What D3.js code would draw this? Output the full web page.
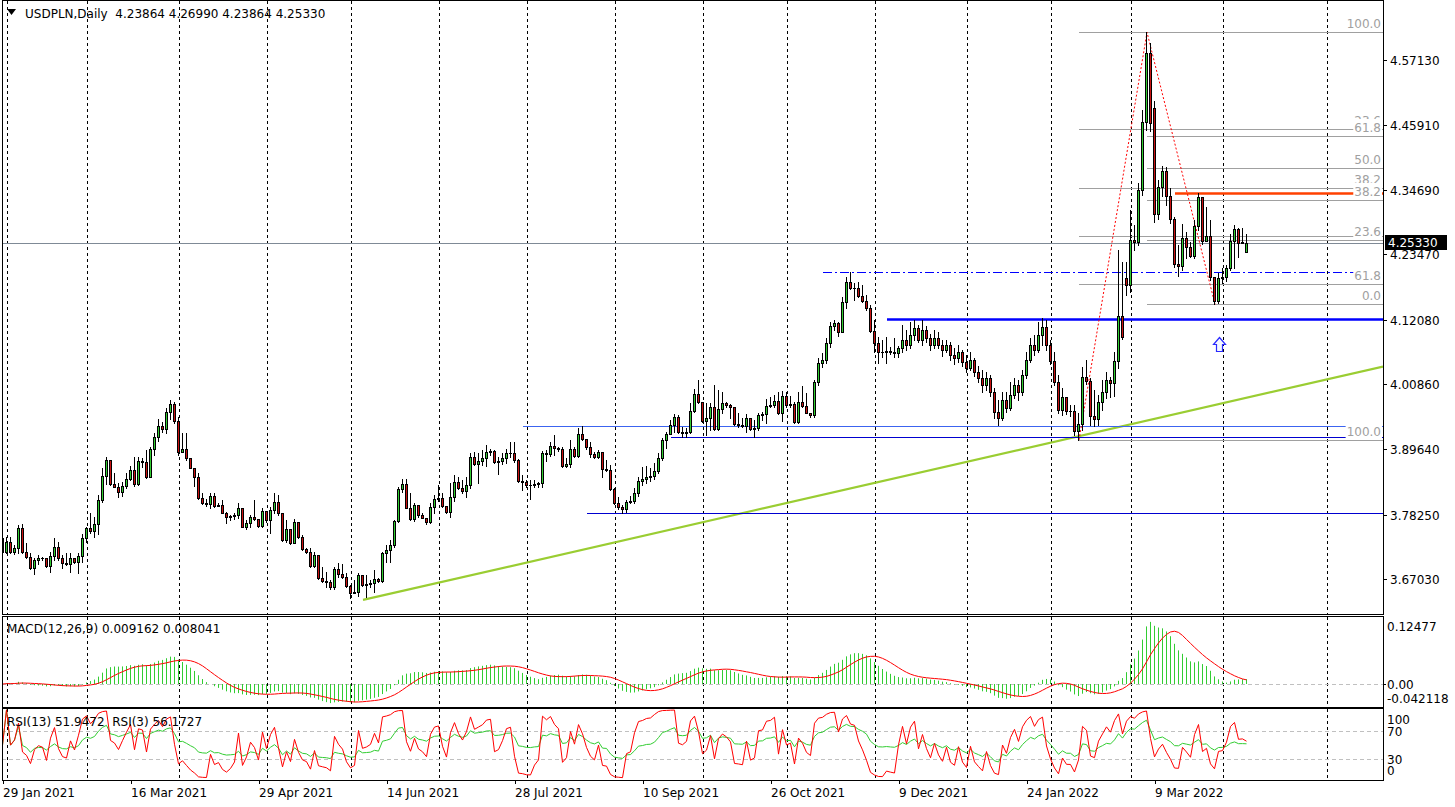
<!DOCTYPE html>
<html><head><meta charset="utf-8">
<script src="https://cdn.jsdelivr.net/npm/d3@7"></script>
<style>
body{margin:0;background:#fff;}
svg{display:block;}
text{font-family:"DejaVu Sans",sans-serif;font-size:12px;white-space:pre;}
</style></head>
<body><svg id="c" width="1455" height="807"></svg>
<script>
// ---------- DATA ----------
const open=[3.7414,3.7183,3.7356,3.7183,3.7241,3.7588,3.7171,3.7096,3.6893,3.7038,3.7079,3.7067,3.6940,3.7107,3.7258,3.7079,3.6980,3.6963,3.7067,3.7009,
3.7107,3.7414,3.7588,3.7542,3.7657,3.8080,3.8496,3.8774,3.8357,3.8311,3.8213,3.8323,3.8444,3.8601,3.8352,3.8757,3.8745,3.8473,3.8965,3.9168,
3.9364,3.9307,3.9607,3.9741,3.9451,3.8919,3.8959,3.8815,3.8641,3.8485,3.8109,3.8033,3.8010,3.8149,3.7976,3.7987,3.7860,3.7790,3.7802,3.7819,
3.7947,3.7617,3.7675,3.7790,3.7750,3.7634,3.7889,3.7732,3.7906,3.8039,3.7848,3.7385,3.7576,3.7327,3.7692,3.7432,3.7229,3.7183,3.6940,3.7125,
3.6720,3.6679,3.6650,3.6564,3.6876,3.6795,3.6749,3.6593,3.6471,3.6482,3.6778,3.6604,3.6616,3.6633,3.6708,3.6668,3.7154,3.7212,3.7298,3.7715,
3.8271,3.8352,3.7947,3.7750,3.7993,3.7819,3.7773,3.7703,3.7952,3.8097,3.8120,3.7981,3.7866,3.8126,3.8387,3.8294,3.8242,3.8340,3.8820,3.8705,
3.8757,3.8803,3.8907,3.8925,3.8745,3.8757,3.8803,3.8890,3.8902,3.8774,3.8415,3.8387,3.8340,3.8334,3.8358,3.8369,3.8902,3.8878,3.9017,3.8977,
3.8959,3.8670,3.8699,3.8959,3.8849,3.9226,3.9139,3.8994,3.8873,3.8820,3.8919,3.8618,3.8601,3.8265,3.8022,3.7964,3.7918,3.8051,3.8062,3.8207,
3.8410,3.8438,3.8485,3.8496,3.8583,3.8803,3.9122,3.9220,3.9382,3.9527,3.9254,3.9237,3.9266,3.9631,3.9914,3.9775,3.9457,3.9498,3.9689,3.9312,
3.9654,3.9758,3.9729,3.9689,3.9393,3.9382,3.9370,3.9498,3.9312,3.9324,3.9556,3.9567,3.9712,3.9729,3.9798,3.9584,3.9885,3.9729,3.9747,3.9440,
3.9775,3.9712,3.9596,3.9556,4.0123,4.0452,4.0510,4.0800,4.1101,4.1158,4.1002,4.1511,4.1859,4.1766,4.1755,4.1627,4.1540,4.1407,4.1020,4.0811,
4.0655,4.0643,4.0667,4.0643,4.0626,4.0713,4.0858,4.0771,4.0944,4.1066,4.0858,4.1031,4.0892,4.0771,4.0892,4.0771,4.0684,4.0771,4.0597,4.0545,
4.0649,4.0476,4.0372,4.0510,4.0302,4.0198,4.0076,4.0198,3.9955,3.9608,3.9504,3.9816,3.9677,3.9903,4.0076,3.9955,4.0250,4.0510,4.0771,4.0684,
4.0944,4.1088,4.0771,4.0493,4.0134,3.9642,3.9873,3.9630,3.9625,3.9283,3.9399,4.0215,4.0151,3.9538,3.9481,3.9781,3.9955,4.0163,4.0111,4.0493,
4.1274,4.1934,4.1812,4.2594,4.2559,4.3462,4.4637,4.5835,4.4880,4.3040,4.3519,4.3791,4.3363,4.2953,4.2172,4.2142,4.2623,4.2477,4.2321,4.2837,
4.3335,4.2576,4.2663,4.1956,4.1540,4.1929,4.1946,4.2102,4.2576,4.2779,4.2547,4.23864];
const high=[3.7559,3.7443,3.7443,3.7298,3.7646,3.7663,3.7327,3.7154,3.7067,3.7125,3.7096,3.7038,3.7183,3.7414,3.7356,3.7125,3.7154,3.7154,3.7038,3.7154,
3.7489,3.7617,3.7848,3.7790,3.8166,3.8629,3.8832,3.8757,3.8554,3.8369,3.8398,3.8543,3.8670,3.8832,3.8832,3.8803,3.8948,3.9006,3.9237,3.9480,
3.9440,3.9671,3.9816,3.9787,3.9526,3.9237,3.9237,3.8803,3.8612,3.8543,3.8195,3.8091,3.8195,3.8195,3.8022,3.8080,3.7877,3.7819,3.7848,3.8022,
3.7935,3.7732,3.7819,3.8080,3.7732,3.7935,3.7848,3.7964,3.8207,3.8166,3.7860,3.7732,3.7559,3.7744,3.7628,3.7472,3.7241,3.7241,3.7183,3.7107,
3.6922,3.6836,3.6691,3.6922,3.6980,3.6969,3.6818,3.6604,3.6691,3.6818,3.6720,3.6778,3.6691,3.6864,3.6720,3.7183,3.7298,3.7385,3.7732,3.8300,
3.8438,3.8438,3.8195,3.8022,3.7877,3.7860,3.7761,3.8022,3.8166,3.8340,3.8195,3.7976,3.8369,3.8514,3.8485,3.8427,3.8485,3.8890,3.8919,3.8890,
3.8948,3.9035,3.8959,3.8948,3.8832,3.8890,3.8959,3.9081,3.9081,3.8786,3.8514,3.8427,3.8427,3.8427,3.8398,3.8936,3.8948,3.9093,3.9208,3.9006,
3.9006,3.8803,3.9122,3.9006,3.9324,3.9364,3.9093,3.9093,3.8919,3.8948,3.8890,3.8774,3.8687,3.8282,3.8138,3.7993,3.8080,3.8149,3.8282,3.8485,
3.8658,3.8670,3.8630,3.8716,3.8890,3.9151,3.9266,3.9469,3.9573,3.9556,3.9353,3.9324,3.9758,4.0001,4.0163,3.9700,3.9758,3.9758,4.0076,3.9989,
3.9960,3.9787,3.9747,3.9700,3.9584,3.9498,3.9573,3.9457,3.9469,3.9596,3.9613,3.9827,3.9874,3.9903,3.9960,3.9978,3.9960,3.9885,3.9787,3.9960,
4.0059,3.9932,3.9596,4.0163,4.0539,4.0626,4.0886,4.1176,4.1205,4.1176,4.1610,4.1957,4.2032,4.1841,4.1870,4.1812,4.1639,4.1465,4.1205,4.0915,
4.0858,4.0915,4.0742,4.0886,4.0753,4.1118,4.1031,4.1170,4.1205,4.1118,4.1205,4.1101,4.0962,4.1031,4.0996,4.0858,4.0858,4.0823,4.0719,4.0771,
4.0684,4.0597,4.0649,4.0545,4.0406,4.0337,4.0302,4.0250,4.0024,3.9816,3.9955,3.9955,4.0129,4.0198,4.0163,4.0337,4.0649,4.0892,4.0944,4.1170,
4.1240,4.1205,4.0858,4.0649,4.0250,4.0024,3.9851,3.9729,3.9729,3.9590,4.0389,4.0510,4.0198,3.9990,3.9903,4.0163,4.0302,4.0215,4.0649,4.2420,
4.2217,4.2207,4.3114,4.2854,4.3583,4.4850,4.6199,4.6019,4.5007,4.3635,4.3878,4.3866,4.3496,4.3000,4.2507,4.2871,4.2727,4.2564,4.2941,4.3404,
4.3345,4.3172,4.2941,4.1956,4.2016,4.2102,4.2160,4.2698,4.2854,4.2797,4.2797,4.26990];
const low=[3.7154,3.7165,3.7154,3.7142,3.7165,3.7154,3.7067,3.6876,3.6795,3.6969,3.7038,3.6911,3.6836,3.7038,3.7038,3.6893,3.6951,3.6836,3.6980,3.6807,
3.7009,3.7356,3.7513,3.7443,3.7489,3.8051,3.8357,3.8340,3.8300,3.8126,3.8149,3.8282,3.8427,3.8329,3.8340,3.8647,3.8456,3.8485,3.8861,3.9104,
3.9266,3.9237,3.9480,3.9422,3.8861,3.8936,3.8774,3.8629,3.8323,3.8091,3.8010,3.7976,3.7935,3.7952,3.7976,3.7848,3.7675,3.7732,3.7744,3.7761,
3.7605,3.7570,3.7617,3.7732,3.7617,3.7617,3.7703,3.7513,3.7848,3.7819,3.7374,3.7356,3.7316,3.7356,3.7414,3.7212,3.7165,3.6922,3.6922,3.6702,
3.6662,3.6575,3.6529,3.6529,3.6749,3.6720,3.6575,3.6373,3.6459,3.6413,3.6587,3.6402,3.6575,3.6488,3.6650,3.6662,3.6997,3.7009,3.7258,3.7703,
3.8224,3.7935,3.7732,3.7721,3.7790,3.7761,3.7663,3.7675,3.7848,3.8068,3.7964,3.7848,3.7790,3.8068,3.8265,3.8207,3.8126,3.8282,3.8687,3.8369,
3.8687,3.8670,3.8861,3.8728,3.8531,3.8705,3.8716,3.8832,3.8745,3.8398,3.8253,3.8311,3.8091,3.8300,3.8300,3.8300,3.8763,3.8844,3.8861,3.8931,
3.8658,3.8647,3.8658,3.8832,3.8832,3.9122,3.8959,3.8820,3.8803,3.8803,3.8485,3.8589,3.8253,3.8011,3.7918,3.7848,3.7877,3.8022,3.8022,3.8149,
3.8340,3.8369,3.8415,3.8438,3.8554,3.8774,3.8977,3.9220,3.9266,3.9237,3.9168,3.9180,3.9237,3.9613,3.9758,3.9440,3.9208,3.9295,3.9295,3.9295,
3.9584,3.9689,3.9498,3.9376,3.9353,3.9353,3.9266,3.9295,3.9180,3.9295,3.9469,3.9411,3.9689,3.9689,3.9573,3.9457,3.9700,3.9700,3.9422,3.9411,
3.9700,3.9584,3.9527,3.9515,4.0076,4.0395,4.0452,4.0742,4.1031,4.0927,4.1020,4.1407,4.1737,4.1552,4.1598,4.1523,4.1378,4.1002,4.0655,4.0452,
4.0557,4.0464,4.0614,4.0568,4.0557,4.0649,4.0684,4.0719,4.0858,4.0823,4.0771,4.0823,4.0684,4.0719,4.0719,4.0580,4.0649,4.0510,4.0441,4.0476,
4.0406,4.0302,4.0337,4.0233,4.0129,3.9955,3.9990,3.9885,3.9504,3.9382,3.9469,3.9608,3.9642,3.9851,3.9816,3.9903,4.0198,4.0476,4.0597,4.0649,
4.0771,4.0684,4.0441,4.0076,3.9590,3.9556,3.9573,3.9538,3.9208,3.9122,3.9295,4.0094,3.9382,3.9365,3.9382,3.9642,3.9851,3.9868,3.9885,4.0372,
4.0875,4.1639,4.1691,4.2420,4.2507,4.3375,4.4503,4.4486,4.2911,4.2958,4.3357,4.3201,4.2894,4.2130,4.1969,4.2073,4.2286,4.2304,4.2281,4.2767,
4.2519,4.2651,4.1899,4.1477,4.1495,4.1842,4.1882,4.2073,4.2102,4.2304,4.2536,4.23864];
const close=[3.7183,3.7356,3.7183,3.7241,3.7588,3.7171,3.7096,3.6893,3.7038,3.7079,3.7067,3.6940,3.7107,3.7258,3.7079,3.6980,3.6963,3.7067,3.7009,3.7107,
3.7414,3.7588,3.7542,3.7657,3.8080,3.8496,3.8774,3.8357,3.8311,3.8213,3.8323,3.8444,3.8601,3.8352,3.8757,3.8745,3.8473,3.8965,3.9168,3.9364,
3.9307,3.9607,3.9741,3.9451,3.8919,3.8959,3.8815,3.8641,3.8485,3.8109,3.8033,3.8010,3.8149,3.7976,3.7987,3.7860,3.7790,3.7802,3.7819,3.7947,
3.7617,3.7675,3.7790,3.7750,3.7634,3.7889,3.7732,3.7906,3.8039,3.7848,3.7385,3.7576,3.7327,3.7692,3.7432,3.7229,3.7183,3.6940,3.7125,3.6720,
3.6679,3.6650,3.6564,3.6876,3.6795,3.6749,3.6593,3.6471,3.6482,3.6778,3.6604,3.6616,3.6633,3.6708,3.6668,3.7154,3.7212,3.7298,3.7715,3.8271,
3.8352,3.7947,3.7750,3.7993,3.7819,3.7773,3.7703,3.7952,3.8097,3.8120,3.7981,3.7866,3.8126,3.8387,3.8294,3.8242,3.8340,3.8820,3.8705,3.8757,
3.8803,3.8907,3.8925,3.8745,3.8757,3.8803,3.8890,3.8902,3.8774,3.8415,3.8387,3.8340,3.8334,3.8358,3.8369,3.8902,3.8878,3.9017,3.8977,3.8959,
3.8670,3.8699,3.8959,3.8849,3.9226,3.9139,3.8994,3.8873,3.8820,3.8919,3.8618,3.8601,3.8265,3.8022,3.7964,3.7918,3.8051,3.8062,3.8207,3.8410,
3.8438,3.8485,3.8496,3.8583,3.8803,3.9122,3.9220,3.9382,3.9527,3.9254,3.9237,3.9266,3.9631,3.9914,3.9775,3.9457,3.9498,3.9689,3.9312,3.9654,
3.9758,3.9729,3.9689,3.9393,3.9382,3.9370,3.9498,3.9312,3.9324,3.9556,3.9567,3.9712,3.9729,3.9798,3.9584,3.9885,3.9729,3.9747,3.9440,3.9775,
3.9712,3.9596,3.9556,4.0123,4.0452,4.0510,4.0800,4.1101,4.1158,4.1002,4.1511,4.1859,4.1766,4.1755,4.1627,4.1540,4.1407,4.1020,4.0811,4.0655,
4.0643,4.0667,4.0643,4.0626,4.0713,4.0858,4.0771,4.0944,4.1066,4.0858,4.1031,4.0892,4.0771,4.0892,4.0771,4.0684,4.0771,4.0597,4.0545,4.0649,
4.0476,4.0372,4.0510,4.0302,4.0198,4.0076,4.0198,3.9955,3.9608,3.9504,3.9816,3.9677,3.9903,4.0076,3.9955,4.0250,4.0510,4.0771,4.0684,4.0944,
4.1088,4.0771,4.0493,4.0134,3.9642,3.9873,3.9630,3.9625,3.9283,3.9399,4.0215,4.0151,3.9538,3.9481,3.9781,3.9955,4.0163,4.0111,4.0493,4.1274,
4.0910,4.1812,4.2594,4.2559,4.3462,4.4637,4.5835,4.4630,4.3040,4.3519,4.3791,4.3363,4.2953,4.2172,4.2142,4.2623,4.2477,4.2321,4.2837,4.3335,
4.2576,4.2663,4.1956,4.1540,4.1929,4.1946,4.2102,4.2576,4.2779,4.2547,4.2554,4.25330];

const priceTicks=[4.5713,4.4591,4.3469,4.2347,4.1208,4.0086,3.8964,3.7825,3.6703];
const dateTickBars=[0,32,64,96,128,160,192,224,256,288];
const dateLabels=["29 Jan 2021","16 Mar 2021","29 Apr 2021","14 Jun 2021","28 Jul 2021","10 Sep 2021","26 Oct 2021","9 Dec 2021","24 Jan 2022","9 Mar 2022"];
const monthGridBars=[1,21,44,66,87,109,131,153,175,196,218,241,262,282,305,331];
const macdTickValues=[0.12477,0,-0.042118];
const macdTickLabels=["0.12477","0.00","-0.042118"];
const rsiTickValues=[100,70,30,0];
const rsiLevels=[70,30];
const lastPrice=4.25330;
// horizontal line objects: price, first bar, colour, width, dash
const hLinePrices=[4.3414,4.2032,4.1218,3.9365,3.9168,3.7849];
const hLineFromBar=[293,205,221,130,167,146];
const hLineColors=["#ff4000","#0000ff","#0000ff","#3c64f0","#0000d0","#0000d0"];
const hLineWidths=[2.5,1,2.5,1,1,1];
const hLineDash=[null,"9,3,2,3",null,null,null,null];
const trendBars=[90,269], trendPrices=[3.6344,3.9188];
const zigzagBars=[269,286,303];
const fibLevels=[0,23.6,38.2,50,61.8,100];
const fibA={bar:269,p0:4.6199,p100:3.9122};
const fibB={bar:286,p0:4.1477,p100:4.6199};
const arrowBar=304, arrowPrice=4.0910;

// ---------- SCALES ----------
const svg=d3.select("#c");
const X0=2,X1=1383;
const PM=[1,614],PD=[617,707],PR=[709,780];
const x=d3.scaleLinear().domain([0,345]).range([3,3+4*345]);
const y=d3.scaleLinear().domain([3.6100,4.6743]).range([614,1]);
const yM=d3.scaleLinear().domain([-0.042118,0.12477]).range([706.5,617.5]);
const yR=d3.scaleLinear().domain([0,100]).range([780.5,709.8]);
const GREEN="#32cd32",RED="#c81212";

svg.append("rect").attr("width",1455).attr("height",807).attr("fill","#fff");
const defs=svg.append("defs");
function clip(id,p){defs.append("clipPath").attr("id",id).append("rect").attr("x",X0).attr("y",p[0]).attr("width",X1-X0).attr("height",p[1]-p[0]);}
clip("cm",PM);clip("cd",PD);clip("cr",PR);
const gM=svg.append("g").attr("clip-path","url(#cm)");
const gD=svg.append("g").attr("clip-path","url(#cd)");
const gR=svg.append("g").attr("clip-path","url(#cr)");

// grid
[[gM,PM],[gD,PD],[gR,PR]].forEach(([g,p])=>{
  g.selectAll("line.grid").data(monthGridBars).join("line").attr("class","grid")
   .attr("x1",d=>Math.round(x(d))+0.5).attr("x2",d=>Math.round(x(d))+0.5)
   .attr("y1",p[0]).attr("y2",p[1]).attr("stroke","#000").attr("stroke-dasharray","3,3");
});

// trendline (ray to the right edge)
const tSlope=(trendPrices[1]-trendPrices[0])/(trendBars[1]-trendBars[0]);
const tEnd=x.invert(X1);
gM.append("line").attr("x1",x(trendBars[0])).attr("y1",y(trendPrices[0]))
  .attr("x2",X1).attr("y2",y(trendPrices[0]+tSlope*(tEnd-trendBars[0])))
  .attr("stroke","#9acd32").attr("stroke-width",2.2);

// horizontal lines
hLinePrices.forEach((p,i)=>{
  const yy=Math.round(y(p))+0.5;
  gM.append("line").attr("x1",x(hLineFromBar[i])).attr("x2",X1).attr("y1",yy).attr("y2",yy)
    .attr("stroke",hLineColors[i]).attr("stroke-width",hLineWidths[i])
    .attr("stroke-dasharray",hLineDash[i]);
});
// bid line
gM.append("line").attr("x1",X0).attr("x2",X1).attr("y1",Math.round(y(lastPrice))+0.5).attr("y2",Math.round(y(lastPrice))+0.5)
  .attr("stroke","#7f8a96");

// fibonacci
function fib(f){
  const g=gM.append("g");
  fibLevels.forEach(L=>{
    const p=f.p0+(f.p100-f.p0)*L/100;
    const yy=Math.round(y(p))+0.5;
    g.append("line").attr("x1",x(f.bar)).attr("x2",X1).attr("y1",yy).attr("y2",yy).attr("stroke","#a0a0a0");
  });
  fibLevels.forEach(L=>{
    const p=f.p0+(f.p100-f.p0)*L/100;
    const yy=Math.round(y(p));
    const bg=g.append("rect").attr("fill","#fff");
    const t=g.append("text").attr("x",1381).attr("y",yy-4).attr("text-anchor","end").attr("fill","#a0a0a0").text(L.toFixed(1));
    const w=t.node().getComputedTextLength();
    bg.attr("x",1381-w-1).attr("y",yy-17).attr("width",w+2).attr("height",15);
  });
}
fib(fibA);fib(fibB);

// zigzag
gM.append("path").attr("d",d3.line()([[x(zigzagBars[0]),y(low[zigzagBars[0]])],[x(zigzagBars[1]),y(high[zigzagBars[1]])],[x(zigzagBars[2]),y(low[zigzagBars[2]])]]))
  .attr("fill","none").attr("stroke","#ff0000").attr("stroke-dasharray","2,2");

// candles
const cg=gM.append("g");
close.forEach((c,i)=>{
  const o=open[i];
  const cx=Math.round(x(i))-1;
  cg.append("line").attr("x1",cx+0.5).attr("x2",cx+0.5).attr("y1",Math.round(y(high[i]))).attr("y2",Math.round(y(low[i]))+1)
    .attr("stroke","#000");
  const yt=Math.round(y(Math.max(o,c))), yb=Math.round(y(Math.min(o,c)));
  if(yb-yt<1){
    cg.append("line").attr("x1",cx-1).attr("x2",cx+2).attr("y1",yt+0.5).attr("y2",yt+0.5).attr("stroke","#000");
  }else{
    cg.append("rect").attr("x",cx-0.5).attr("y",yt+0.5).attr("width",2).attr("height",yb-yt)
      .attr("fill",c>=o?GREEN:RED).attr("stroke","#000");
  }
});

// arrow
const ax=Math.round(x(arrowBar))+0.5, ay=Math.round(y(arrowPrice))+0.5;
gM.append("path").attr("d",`M${ax-6},${ay+7}L${ax},${ay}L${ax+6},${ay+7}L${ax+3},${ay+7}L${ax+3},${ay+14}L${ax-3},${ay+14}L${ax-3},${ay+7}Z`)
  .attr("fill","#f4f8ff").attr("stroke","#2a2aff").attr("stroke-width",1.2);

// ---------- MACD ----------
function ema(a,n){const k=2/(n+1);const o=[];a.forEach((v,i)=>o.push(i?o[i-1]+k*(v-o[i-1]):v));return o;}
const e12=ema(close,12),e26=ema(close,26);
const macdMain=close.map((_,i)=>e12[i]-e26[i]);
const macdSignal=macdMain.map((_,i)=>d3.mean(macdMain.slice(Math.max(0,i-8),i+1)));
gD.append("line").attr("x1",X0).attr("x2",X1).attr("y1",Math.round(yM(0))+0.5).attr("y2",Math.round(yM(0))+0.5)
  .attr("stroke","#c0c0c0").attr("stroke-dasharray","4,3");
gD.selectAll("line.h").data(macdMain).join("line").attr("class","h")
  .attr("x1",(d,i)=>Math.round(x(i))-0.5).attr("x2",(d,i)=>Math.round(x(i))-0.5)
  .attr("y1",Math.round(yM(0))).attr("y2",d=>yM(d)).attr("stroke",GREEN);
gD.append("path").attr("d",d3.line().x((d,i)=>x(i)-0.5).y(d=>yM(d))(macdSignal)).attr("fill","none").attr("stroke","#ff0000");

// ---------- RSI ----------
function rsi(a,n){let ag=0,al=0;const o=[50];
  for(let i=1;i<a.length;i++){const d=a[i]-a[i-1],g=Math.max(d,0),l=Math.max(-d,0);
    if(i<=n){ag=(ag*(i-1)+g)/i;al=(al*(i-1)+l)/i;}else{ag=(ag*(n-1)+g)/n;al=(al*(n-1)+l)/n;}
    o.push(al===0?100:100-100/(1+ag/al));}
  return o;}
const rsi13=rsi(close,13),rsi3=rsi(close,3);
rsiLevels.forEach(v=>gR.append("line").attr("x1",X0).attr("x2",X1).attr("y1",Math.round(yR(v))+0.5).attr("y2",Math.round(yR(v))+0.5)
  .attr("stroke","#c0c0c0").attr("stroke-dasharray","4,3"));
gR.append("path").attr("d",d3.line().x((d,i)=>x(i)-0.5).y(d=>yR(d))(rsi13)).attr("fill","none").attr("stroke",GREEN);
gR.append("path").attr("d",d3.line().x((d,i)=>x(i)-0.5).y(d=>yR(d))(rsi3)).attr("fill","none").attr("stroke","#ff0000");

// ---------- FRAMES ----------
[PM,PD,PR].forEach(p=>svg.append("rect").attr("x",X0+0.5).attr("y",p[0]-0.5).attr("width",X1-X0).attr("height",p[1]-p[0]+1)
  .attr("fill","none").attr("stroke","#000"));

// ---------- AXES ----------
const ax1=svg.append("g");
priceTicks.forEach(v=>{
  const yy=Math.round(y(v))+0.5;
  ax1.append("line").attr("x1",X1).attr("x2",X1+4).attr("y1",yy).attr("y2",yy).attr("stroke","#000");
  ax1.append("text").attr("x",1390).attr("y",yy).attr("dy","0.36em").text(v.toFixed(5));
});
// bid label
const by=Math.round(y(lastPrice));
svg.append("rect").attr("x",1385).attr("y",by-8).attr("width",62).attr("height",15).attr("fill","#000");
svg.append("text").attr("x",1388).attr("y",by).attr("dy","0.36em").attr("fill","#fff").text(lastPrice.toFixed(5));

// MACD axis
const macdLabelY=[626.5,685,698.5];
macdTickValues.forEach((v,i)=>{
  svg.append("text").attr("x",1387).attr("y",macdLabelY[i]).attr("dy","0.36em").text(macdTickLabels[i]);
});
svg.append("line").attr("x1",X1).attr("x2",X1+3).attr("y1",Math.round(yM(0))+0.5).attr("y2",Math.round(yM(0))+0.5).attr("stroke","#000");
// RSI axis
const rsiLabelY=[720,732,760,771];
rsiTickValues.forEach((v,i)=>svg.append("text").attr("x",1387).attr("y",rsiLabelY[i]).attr("dy","0.36em").text(String(v)));

// date axis
dateTickBars.forEach((b,i)=>{
  const xx=Math.round(x(b))+0.5;
  svg.append("line").attr("x1",xx).attr("x2",xx).attr("y1",PR[1]).attr("y2",PR[1]+4).attr("stroke","#000");
  svg.append("text").attr("x",xx-0.5).attr("y",797).text(dateLabels[i]);
});

// ---------- TITLES ----------
svg.append("path").attr("d","M7,9L16,9L11.5,15Z").attr("fill","#000");
svg.append("text").attr("x",25).attr("y",18).text("USDPLN,Daily  4.23864 4.26990 4.23864 4.25330");
svg.append("text").attr("x",7).attr("y",633).text("MACD(12,26,9) 0.009162 0.008041");
svg.append("text").attr("x",7).attr("y",726).text("RSI(13) 51.9472  RSI(3) 56.1727");
</script></body></html>
